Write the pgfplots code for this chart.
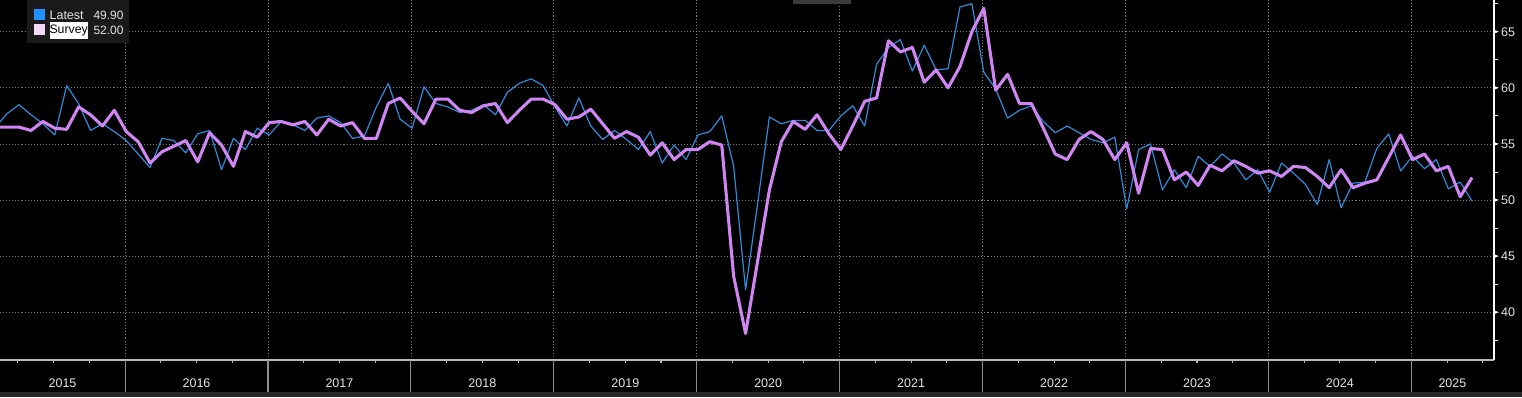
\documentclass[border=0pt]{standalone}
\usepackage{pgfplots}
\pgfplotsset{compat=1.18}
\usepackage{pgfplotstable}
\usepackage{fontspec}
\setmainfont{Liberation Sans}
\definecolor{gridc}{HTML}{7C7C7C}
\definecolor{axisc}{HTML}{B8B8B8}
\definecolor{sepc}{HTML}{8E8E8E}
\definecolor{txt}{HTML}{E4E4E4}
\definecolor{latest}{HTML}{2E8BDA}
\definecolor{survey}{HTML}{CF85F2}
\definecolor{legbg}{HTML}{1A1A1A}
\definecolor{latestsw}{HTML}{1E90FF}
\definecolor{surveysw}{HTML}{F4D8F8}
\definecolor{band}{HTML}{282828}
\definecolor{topbox}{HTML}{3A3A3A}

\pgfplotstableread{
k latest survey
1 56.5 56.5
2 57.7 56.5
3 58.5 56.5
4 57.6 56.2
5 56.8 57.0
6 55.8 56.4
7 60.2 56.3
8 58.6 58.3
9 56.2 57.6
10 56.8 56.6
11 56.1 58.0
12 55.3 56.1
13 54.1 55.2
14 52.9 53.3
15 55.5 54.3
16 55.3 54.8
17 54.2 55.3
18 55.9 53.4
19 56.2 56.0
20 52.7 54.9
21 55.5 53.0
22 54.5 56.1
23 56.4 55.6
24 55.8 56.9
25 57.0 57.0
26 56.7 56.7
27 56.2 57.0
28 57.3 55.8
29 57.5 57.2
30 56.9 56.6
31 55.5 56.9
32 55.7 55.5
33 58.3 55.5
34 60.4 58.6
35 57.2 59.1
36 56.4 57.9
37 60.1 56.8
38 58.6 59.0
39 58.3 59.0
40 57.8 58.0
41 58.0 57.8
42 58.5 58.4
43 57.6 58.6
44 59.6 56.9
45 60.4 58.0
46 60.8 59.0
47 60.2 59.0
48 58.3 58.5
49 56.6 57.2
50 59.1 57.4
51 56.6 58.1
52 55.4 56.8
53 56.2 55.5
54 55.4 56.1
55 54.5 55.6
56 56.1 54.0
57 53.3 55.1
58 54.9 53.6
59 53.6 54.5
60 55.8 54.5
61 56.1 55.2
62 57.5 54.9
63 53.0 43.2
64 42.0 38.1
65 49.6 44.5
66 57.4 50.9
67 56.8 55.2
68 57.1 57.0
69 57.1 56.3
70 56.2 57.6
71 56.2 55.9
72 57.5 54.5
73 58.4 56.6
74 56.6 58.8
75 62.1 59.1
76 63.6 64.2
77 64.3 63.2
78 61.5 63.6
79 63.8 60.5
80 61.6 61.6
81 61.7 60.0
82 67.2 61.9
83 67.5 65.0
84 61.4 67.1
85 59.9 59.8
86 57.3 61.2
87 58.0 58.6
88 58.4 58.6
89 57.0 56.4
90 56.0 54.1
91 56.6 53.6
92 56.0 55.4
93 55.4 56.1
94 55.1 55.4
95 55.6 53.6
96 49.2 55.1
97 54.5 50.6
98 55.0 54.6
99 50.9 54.5
100 52.7 51.8
101 51.1 52.5
102 53.9 51.3
103 53.0 53.1
104 54.1 52.6
105 53.3 53.5
106 51.8 53.0
107 52.7 52.4
108 50.7 52.6
109 53.3 52.1
110 52.4 53.0
111 51.4 52.9
112 49.6 52.1
113 53.6 51.1
114 49.3 52.7
115 51.5 51.1
116 51.6 51.5
117 54.6 51.8
118 55.9 53.8
119 52.6 55.8
120 53.9 53.6
121 52.8 54.1
122 53.6 52.6
123 51.0 53.0
124 51.6 50.3
125 49.9 52.0
}\datatable

\begin{document}
\begin{tikzpicture}[x=0.75pt,y=0.75pt]
\fill[black] (0,0) rectangle (1522,397);
\fill[band] (0,0) rectangle (1522,5);
\begin{axis}[
  at={(0pt,27.75pt)}, anchor=south west,
  scale only axis, width=1120.5pt, height=270pt,
  xmin=1.4, xmax=126.84, ymin=35.74, ymax=67.83,
  clip mode=individual,
  axis x line=bottom, axis y line=right,
  axis line style={-},
  x axis line style={axisc, line width=1.5pt},
  y axis line style={white, line width=1.1pt},
  major tick length=0pt, minor tick length=0pt,
  xtick style={draw=none}, ytick style={draw=none},
  xtick={11.9,23.9,35.9,47.9,59.9,71.9,83.9,95.9,107.9,119.9},
  xticklabels={},
  extra x ticks={6.65,17.9,29.9,41.9,53.9,65.9,77.9,89.9,101.9,113.9,123.35},
  extra x tick labels={2015,2016,2017,2018,2019,2020,2021,2022,2023,2024,2025},
  extra x tick style={grid=none},
  xticklabel style={yshift=-10.3pt},
  ytick={40,45,50,55,60,65},
  yticklabel style={anchor=west, xshift=1.8pt},
  /pgf/number format/assume math mode=true,
  tick label style={font=\fontsize{9.4}{11}\selectfont, text=txt},
  xmajorgrids, ymajorgrids,
  grid style={gridc, dash pattern=on 0.8pt off 1.5pt, line width=0.6pt},
]
\addplot[latest, line width=0.9pt, mark=none, line join=round] table[x=k, y=latest]{\datatable};
\addplot[survey, line width=2.3pt, mark=none, line join=round] table[x=k, y=survey]{\datatable};
\pgfplotsinvokeforeach{11.9,23.9,35.9,47.9,59.9,71.9,83.9,95.9,107.9,119.9}{
  \draw[sepc, line width=0.8pt] (axis cs:#1,35.74) -- ++(0pt,-24pt);
}
\pgfplotsinvokeforeach{2.9,5.9,8.9,14.9,17.9,20.9,26.9,29.9,32.9,38.9,41.9,44.9,50.9,53.9,56.9,62.9,65.9,68.9,74.9,77.9,80.9,86.9,89.9,92.9,98.9,101.9,104.9,110.9,113.9,116.9,122.9,125.9}{
  \draw[axisc, line width=0.8pt] (axis cs:#1,35.74) -- ++(0pt,-2.6pt);
}
\pgfplotsinvokeforeach{40,45,50,55,60,65}{
  \fill[white] (axis cs:126.84,#1) ++(0pt,-1.4pt) -- ++(3.6pt,1.4pt) -- ++(-3.6pt,1.4pt) -- cycle;
}
\pgfplotsinvokeforeach{37.5,42.5,47.5,52.5,57.5,62.5,67.5}{
  \draw[white, line width=0.6pt] (axis cs:126.84,#1) -- ++(3pt,0pt);
}
\end{axis}
\fill[topbox] (793,393) rectangle (851,397);
% legend
\fill[legbg] (27,354) rectangle (129,397);
\fill[latestsw] (34.3,377) rectangle (45,387.7);
\fill[surveysw] (34.3,362) rectangle (45,372.7);
\node[anchor=west, inner sep=0pt, text=txt, font=\fontsize{9.4}{11}\selectfont] at (49.3,381.5) {Latest};
\node[anchor=east, inner sep=0pt, text=txt, font=\fontsize{9}{11}\selectfont] at (123.8,381.5) {49.90};
\node[anchor=west, inner xsep=0pt, inner ysep=2.4pt, fill=white, text=black, font=\fontsize{9.2}{11}\selectfont] at (49.3,366.3) {Survey};
\node[anchor=east, inner sep=0pt, text=txt, font=\fontsize{9}{11}\selectfont] at (123.8,366.3) {52.00};
\pgfresetboundingbox
\useasboundingbox (0,0) rectangle (1522,397);
\end{tikzpicture}
\end{document}
